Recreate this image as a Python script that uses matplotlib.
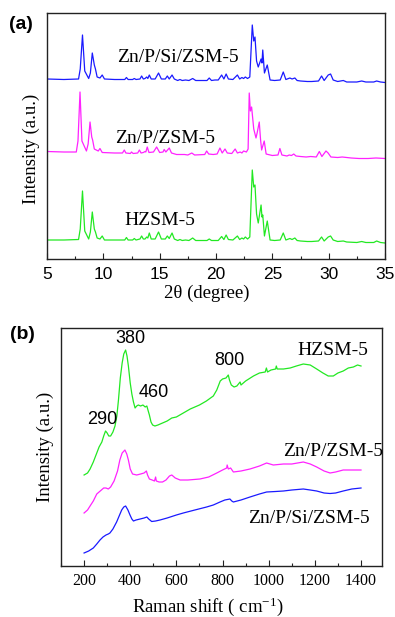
import matplotlib
matplotlib.use("Agg")
import matplotlib.pyplot as plt
from matplotlib.ticker import MultipleLocator

plt.rcParams['mathtext.fontset'] = 'custom'
plt.rcParams['mathtext.rm'] = 'Liberation Serif'
plt.rcParams['mathtext.it'] = 'Liberation Serif:italic'

SERIF = 'Liberation Serif'
SANS = 'Liberation Sans'

# ---------------- (a) XRD data ----------------
xrd_labels = ['Zn/P/Si/ZSM-5', 'Zn/P/ZSM-5', 'HZSM-5']

hz_tt = [5.0, 6.5, 7.8, 7.95, 8.15, 8.35, 8.7, 8.85, 9.02, 9.2,
         9.3, 9.45, 9.7, 9.9, 10.1, 11.0, 11.9, 12.05, 12.2, 12.6,
         12.75, 12.9, 13.25, 13.4, 13.55, 13.7, 13.85, 13.95, 14.08, 14.25,
         14.6, 14.9, 15.15, 15.5, 15.68, 15.85, 16.1, 16.3, 16.6, 16.8,
         17.0, 17.3, 17.6, 17.93, 18.2, 19.2, 19.4, 19.6, 19.9, 20.2,
         20.5, 20.7, 20.9, 21.1, 21.5, 21.9, 22.1, 22.3, 22.45, 22.6,
         22.8, 23.0, 23.22, 23.35, 23.46, 23.6, 23.75, 24.0, 24.08, 24.15,
         24.3, 24.55, 24.8, 25.2, 25.7, 25.97, 26.2, 26.56, 26.75, 27.0,
         27.2, 27.5, 28.1, 28.5, 29.1, 29.37, 29.6, 29.96, 30.17, 30.4,
         30.8, 31.3, 31.6, 32.5, 32.93, 33.3, 34.0, 34.26, 34.6, 35.0]
hz_int = [19, 19, 19.5, 30, 68, 28, 20, 27, 47, 30,
          27, 21, 20, 23, 19, 19, 19, 21.5, 19, 19,
          20.5, 19, 20, 23, 20, 20, 22, 21, 26, 20,
          20, 27, 20, 20, 23, 20.5, 26, 20, 18.5, 19.5,
          18.5, 19, 18.5, 21, 18.5, 18.5, 20, 18.5, 18.5, 18.5,
          22.5, 19.5, 24, 19.5, 19, 23, 19.5, 21, 20, 22,
          20, 22, 89, 72, 74, 45, 36, 54, 42, 44,
          23, 38, 19, 18.5, 19, 26, 19, 20.5, 19.5, 21,
          18.5, 18, 17.5, 17.5, 18, 22, 18, 22, 23, 19,
          17.5, 18, 17, 16.5, 17.5, 16.5, 16.5, 18, 16.5, 16]

zp_tt = [5.0, 6.5, 7.6, 7.75, 7.93, 8.1, 8.5, 8.65, 8.82, 8.97,
         9.05, 9.2, 9.55, 9.7, 9.9, 11.0, 11.7, 11.86, 12.0, 12.4,
         12.5, 12.65, 13.05, 13.2, 13.35, 13.55, 13.7, 13.77, 13.9, 14.05,
         14.45, 14.73, 15.0, 15.3, 15.4, 15.55, 15.85, 16.05, 16.5, 17.2,
         17.5, 17.85, 18.1, 19.0, 19.17, 19.35, 19.75, 20.1, 20.35, 20.55,
         20.8, 21.0, 21.4, 21.7, 21.9, 22.15, 22.3, 22.45, 22.7, 22.85,
         22.95, 23.05, 23.16, 23.35, 23.55, 23.65, 23.84, 23.95, 24.05, 24.28,
         24.45, 25.0, 25.5, 25.67, 25.85, 26.3, 26.5, 26.7, 26.9, 27.1,
         27.5, 28.0, 28.4, 28.9, 29.17, 29.4, 29.76, 29.95, 30.2, 30.8,
         31.2, 32.0, 32.7, 33.5, 34.2, 35.0]
zp_int = [107.5, 107, 107, 118, 167, 118, 108, 115, 137, 122,
          119, 110, 108, 110.5, 106.5, 106, 106, 109, 106, 105.5,
          107, 105.5, 106, 109, 106, 106.5, 107.5, 107, 112, 106.5,
          107, 112, 106.5, 107, 109.5, 107, 111, 106, 104.5, 104.5,
          104, 106, 104, 104.5, 108, 105, 104.5, 105, 111, 106,
          110, 106, 105.5, 110, 106, 107, 106, 108, 107, 110,
          166, 148, 152, 130, 121, 126, 137, 120, 109, 118,
          105, 103.5, 104, 110.5, 104, 103, 104, 103.5, 105, 103,
          102.5, 102, 102.5, 102, 107.5, 102.5, 108, 106, 102, 101.5,
          102, 101, 100.5, 100.5, 101, 100.5]

zps_tt = hz_tt
zps_int = [180, 179.5, 180, 190, 224, 188, 180.5, 186, 206, 194,
           190, 182, 181, 184, 180, 179.5, 179.5, 181.5, 179.5, 179.5,
           180.5, 179.5, 180, 183, 180, 180.5, 182, 180.5, 184, 180,
           180, 186, 180, 180, 183, 180, 184, 180, 178.5, 179.5,
           178.5, 179, 178.5, 180.5, 178.5, 178.5, 181, 178.5, 179, 179,
           184, 180, 185, 180, 179.5, 184, 180, 181.5, 180.5, 182,
           180.5, 182, 234, 218, 222, 198, 192, 200, 196, 209,
           186, 194, 179, 178.5, 179, 187, 179.5, 181, 180, 181,
           178.5, 178, 177.5, 177.5, 178, 183, 178.5, 184, 185, 179,
           177.5, 178.5, 177, 177, 178, 177, 177, 178, 177, 176.5]

# ---------------- (b) Raman data ----------------
hz_shift = [200, 215, 226, 240, 255, 265, 277, 285, 293, 300,
            307, 315, 325, 334, 342, 349, 357, 365, 372, 380,
            386, 392, 400, 407, 414, 421, 428, 435, 445, 455,
            465, 472, 478, 483, 490, 497, 507, 520, 540, 560,
            580, 600, 630, 660, 700, 730, 760, 775, 790, 800,
            815, 825, 830, 838, 850, 862, 876, 880, 900, 934,
            960, 985, 990, 995, 1010, 1030, 1033, 1037, 1064, 1093,
            1120, 1150, 1180, 1208, 1235, 1258, 1280, 1300, 1323, 1345,
            1367, 1385, 1400]
hz_raman = [91, 93, 97, 104, 113, 119, 124, 130, 135, 133,
            130, 130, 134, 140, 150, 166, 188, 203, 212, 216,
            210, 200, 183, 172, 164, 158, 160, 161, 160, 161,
            159, 160, 155, 151, 144, 141, 140, 141, 143, 145,
            148, 149, 153, 157, 161, 165, 170, 176, 185, 187,
            188, 191, 186, 181, 179, 180, 184, 181, 185, 190,
            193, 194, 198, 194, 196, 197, 200, 197, 197, 198,
            200, 202, 201, 197, 193, 190, 190, 193, 195, 198,
            199, 201, 200]

zp_shift = [200, 215, 226, 240, 255, 270, 285, 295, 305, 315,
            330, 345, 355, 365, 377, 385, 392, 400, 410, 428,
            445, 460, 470, 475, 483, 495, 505, 510, 513, 525,
            540, 555, 570, 580, 595, 616, 650, 702, 740, 775,
            800, 818, 820, 825, 835, 847, 880, 919, 960, 991,
            1020, 1064, 1100, 1150, 1180, 1208, 1240, 1266, 1290, 1323,
            1360, 1400]
zp_raman = [53, 56, 60, 65, 72, 75, 78, 78, 77, 79,
            85, 95, 106, 113, 116, 112, 106, 97, 92, 91,
            92, 93, 95, 91, 87, 86, 85, 89, 85, 84,
            84, 86, 90, 91, 88, 86, 86, 87, 89, 93,
            96, 98, 101, 97, 98, 94, 95, 97, 100, 103,
            101, 102, 102, 104, 102, 99, 95, 93, 94, 96,
            96, 96]

zps_shift = [200, 220, 240, 255, 269, 282, 295, 305, 312, 325,
             341, 352, 363, 372, 380, 390, 399, 407, 414, 425,
             443, 460, 472, 480, 493, 510, 529, 560, 600, 630,
             680, 731, 760, 789, 810, 832, 840, 847, 880, 919,
             960, 991, 1030, 1064, 1100, 1150, 1180, 1208, 1240, 1266,
             1290, 1323, 1360, 1400]
zps_raman = [13, 15, 18, 22, 26, 29, 31, 32, 33, 37,
             44, 50, 56, 59, 60, 56, 51, 47, 45, 46,
             47, 48, 49, 47, 44.5, 45, 46, 48, 51, 53,
             56, 59, 61, 64, 66, 67, 65, 64, 66, 69,
             72, 74, 74.5, 75, 76, 77, 76, 75, 73, 72.5,
             73, 75, 77, 78]

peak_labels = ['290', '380', '460', '800']
peak_pos = [277, 401, 503, 828]
peak_lab_y = [142, 222.7, 169.3, 201]

C_BLUE = '#1a1aff'
C_MAG = '#ff22ff'
C_GREEN = '#22e822'

fig = plt.figure(figsize=(3.95, 6.17), dpi=100)
axA = fig.add_axes([47 / 395, 1 - 259 / 617, 338 / 395, 246 / 617])
axB = fig.add_axes([61 / 395, 1 - 566 / 617, 321 / 395, 238 / 617])

lw = 0.9
axA.plot(zps_tt, zps_int, color=C_BLUE, lw=lw)
axA.plot(zp_tt, zp_int, color=C_MAG, lw=lw)
axA.plot(hz_tt, hz_int, color=C_GREEN, lw=lw)
axA.set_xlim(5, 35)
axA.set_ylim(0, 246)

axB.plot(hz_shift, hz_raman, color=C_GREEN, lw=lw)
axB.plot(zp_shift, zp_raman, color=C_MAG, lw=lw)
axB.plot(zps_shift, zps_raman, color=C_BLUE, lw=lw)
axB.set_xlim(100, 1491)
axB.set_ylim(0, 238)

for ax in (axA, axB):
    for s in ax.spines.values():
        s.set_linewidth(1.0)
        s.set_color('#222222')
    ax.set_yticks([])
    ax.tick_params(axis='x', which='both', direction='in', top=False,
                   width=0.8, color='#222222')
    ax.tick_params(axis='x', which='major', length=4)
    ax.tick_params(axis='x', which='minor', length=2.5)

axA.xaxis.set_major_locator(MultipleLocator(5))
axA.xaxis.set_minor_locator(MultipleLocator(2.5))
axA.tick_params(axis='x', which='major', pad=6, labelsize=12.5)
for t in axA.get_xticklabels():
    t.set_family(SANS)

axB.set_xticks([200, 400, 600, 800, 1000, 1200, 1400])
axB.xaxis.set_minor_locator(MultipleLocator(100))
axB.tick_params(axis='x', which='major', pad=5, labelsize=11.5)
for t in axB.get_xticklabels():
    t.set_family(SERIF)

axA.set_xlabel('2θ (degree)', family=SERIF, fontsize=13.5)
axA.xaxis.set_label_coords(0.4725, -0.105)
axA.set_ylabel('Intensity (a.u.)', family=SERIF, fontsize=13.5)
axA.yaxis.set_label_coords(-0.021, 0.447)

axB.set_xlabel(r'Raman shift ( cm$^{\mathregular{-1}}$)', family=SERIF, fontsize=13.5)
axB.xaxis.set_label_coords(0.456, -0.125)
axB.set_ylabel('Intensity (a.u.)', family=SERIF, fontsize=13.5)
axB.yaxis.set_label_coords(-0.022, 0.5)

# series labels (a)
axA.text(16.58, 197.3, xrd_labels[0], family=SERIF, fontsize=14, ha='center', va='baseline')
axA.text(15.47, 115.7, xrd_labels[1], family=SERIF, fontsize=14, ha='center', va='baseline')
axA.text(14.98, 34, xrd_labels[2], family=SERIF, fontsize=14, ha='center', va='baseline')

# series labels (b)
axB.text(1279, 211, xrd_labels[2], family=SERIF, fontsize=14, ha='center', va='baseline')
axB.text(1279, 110.3, xrd_labels[1], family=SERIF, fontsize=14, ha='center', va='baseline')
axB.text(1173, 43.3, xrd_labels[0], family=SERIF, fontsize=14, ha='center', va='baseline')

for lab, px, py in zip(peak_labels, peak_pos, peak_lab_y):
    axB.text(px, py, lab, family=SANS, fontsize=13, ha='center', va='baseline')

fig.text(9 / 395, 1 - 29 / 617, '(a)', family=SANS, fontweight='bold', fontsize=14,
         ha='left', va='baseline')
fig.text(10 / 395, 1 - 339 / 617, '(b)', family=SANS, fontweight='bold', fontsize=14,
         ha='left', va='baseline')

fig.savefig('out.png', dpi=100)
